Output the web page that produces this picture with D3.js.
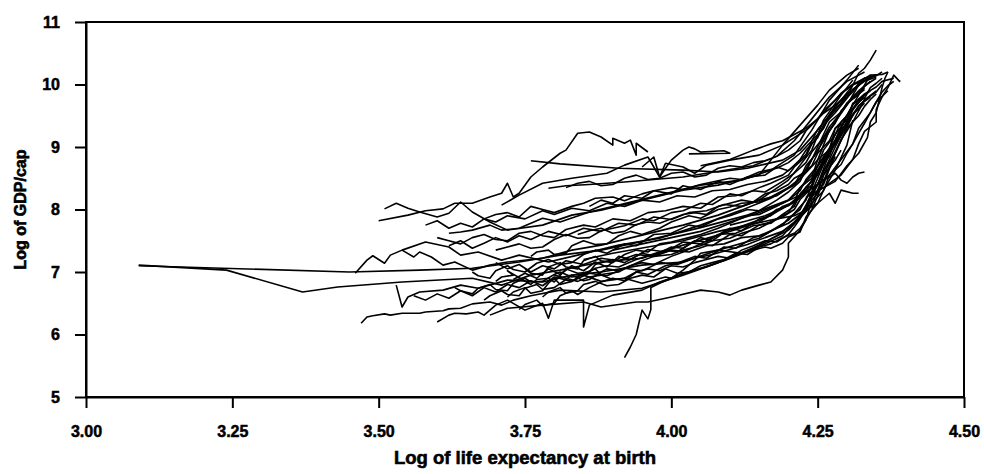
<!DOCTYPE html>
<html>
<head>
<meta charset="utf-8">
<script src="https://cdn.jsdelivr.net/npm/d3@7"></script>
<style>
  body { margin: 0; background: #fff; }
  svg { display: block; font-family: "Liberation Sans", Arial, sans-serif; }
  .axis text { font-size: 16px; font-weight: bold; fill: #000; stroke: #000; stroke-width: 0.5px; }
  .axis path, .axis line { stroke: #000; stroke-width: 2px; }
  .title { font-weight: bold; fill: #000; stroke: #000; stroke-width: 0.6px; }
</style>
</head>
<body>
<div id="chart"></div>
<script>
// each country: [log life expectancy, log GDP per capita] by year
const lineA = [[3.09,7.11],[3.24,7.03],[3.37,6.68],[3.43,6.76],[3.54,6.84],[3.66,6.90],[3.71,6.79],[3.76,6.95],[3.81,7.03],[3.88,7.16],[3.95,7.22],[4.02,7.43],[4.08,7.59],[4.15,7.80],[4.20,8.07],[4.24,8.39],[4.26,8.79],[4.29,9.19],[4.31,9.59],[4.33,9.83]];
const lineB = [[3.09,7.10],[3.45,7.00],[3.57,7.03],[3.66,7.06],[3.74,7.16],[3.81,7.27],[3.88,7.35],[3.96,7.51],[4.05,7.71],[4.13,7.91],[4.20,8.15],[4.24,8.55],[4.28,9.11],[4.30,9.51],[4.32,9.83],[4.34,10.15]];
const lineH = [[3.50,7.82],[3.55,7.91],[3.58,7.98],[3.61,8.01],[3.63,8.10],[3.66,8.10],[3.69,8.20],[3.71,8.26],[3.72,8.42],[3.73,8.20],[3.74,8.26],[3.76,8.52],[3.78,8.68],[3.81,8.90],[3.82,8.95],[3.84,9.22],[3.86,9.24],[3.88,9.16],[3.90,9.03],[3.90,9.14],[3.92,9.06],[3.93,9.11],[3.94,8.87],[3.94,9.06],[3.96,8.92]];
const lineL1 = [[3.51,8.01],[3.53,8.10],[3.55,8.02],[3.57,7.96],[3.60,7.88],[3.62,7.94],[3.64,8.12],[3.66,7.96],[3.69,7.80],[3.72,7.67],[3.78,7.75],[3.83,7.91],[3.88,7.99],[3.95,8.15],[4.02,8.31],[4.08,8.39],[4.15,8.55],[4.19,9.03],[4.23,9.27],[4.26,9.54],[4.28,9.67],[4.30,9.80],[4.32,10.18],[4.33,10.26],[4.34,10.39],[4.35,10.55]];
const lineS = [[3.76,8.78],[3.81,8.73],[3.91,8.66],[4.02,8.63],[4.08,8.60],[4.13,8.66],[4.19,8.79],[4.22,8.95],[4.25,9.27],[4.29,9.75],[4.31,9.99],[4.34,10.15]];
const lineT = [[3.95,8.68],[3.97,8.84],[3.98,8.52],[3.99,8.66],[4.00,8.79],[4.02,8.95],[4.03,9.00],[4.04,8.97],[4.05,8.92],[4.09,8.94],[4.10,8.90],[4.03,8.89]];
const lineLW = [[3.47,6.18],[3.48,6.28],[3.49,6.30],[3.51,6.33],[3.52,6.31],[3.54,6.34],[3.57,6.34],[3.58,6.36],[3.61,6.38],[3.62,6.41],[3.64,6.42],[3.66,6.49],[3.69,6.52],[3.71,6.47],[3.73,6.55],[3.76,6.62],[3.81,6.71],[3.88,6.68],[3.95,6.74],[4.02,6.95],[4.08,7.15],[4.15,7.43],[4.20,7.67],[4.24,8.07],[4.26,8.55],[4.29,9.11],[4.31,9.51]];
const lineLW2 = [[3.60,6.20],[3.62,6.31],[3.63,6.34],[3.65,6.33],[3.67,6.36],[3.68,6.31],[3.70,6.47],[3.72,6.55],[3.75,6.39],[3.78,6.50],[3.79,6.26],[3.80,6.55],[3.84,6.55],[3.85,6.55],[3.85,6.12],[3.86,6.47],[3.90,6.63],[3.95,6.71],[3.98,6.84],[4.03,7.00],[4.09,7.18],[4.14,7.36],[4.19,7.58],[4.22,7.90],[4.25,8.40],[4.27,8.90],[4.30,9.35]];
const lineW = [[3.46,6.98],[3.48,7.19],[3.49,7.26],[3.51,7.14],[3.52,7.27],[3.54,7.35],[3.56,7.24],[3.57,7.32],[3.59,7.24],[3.61,7.11],[3.63,7.16],[3.66,7.03],[3.69,7.11],[3.72,7.16],[3.78,7.22],[3.83,7.35],[3.88,7.43],[3.95,7.59],[4.02,7.75],[4.08,7.91],[4.15,8.15],[4.20,8.47],[4.24,8.95],[4.26,9.43],[4.29,9.83],[4.31,10.07]];
const lineW2 = [[3.54,7.35],[3.58,7.48],[3.62,7.40],[3.64,7.27],[3.67,7.32],[3.71,7.19],[3.74,7.27],[3.79,7.16],[3.84,7.27],[3.91,7.43],[3.98,7.54],[4.05,7.75],[4.12,7.99],[4.17,8.18],[4.21,8.39],[4.25,8.79],[4.27,9.27],[4.30,9.67],[4.32,9.99]];
const lineV = [[3.53,6.79],[3.54,6.44],[3.55,6.60],[3.57,6.68],[3.61,6.71],[3.64,6.79],[3.67,6.74],[3.72,6.87],[3.78,6.84],[3.83,6.95],[3.88,7.00],[3.95,7.11],[4.02,7.16],[4.08,7.35],[4.15,7.54],[4.20,7.83],[4.23,8.15],[4.25,8.63],[4.28,9.11],[4.30,9.51]];
const lineU = [[3.62,7.62],[3.64,7.64],[3.66,7.67],[3.69,7.75],[3.71,7.67],[3.74,7.70],[3.78,7.86],[3.81,7.80],[3.86,7.96],[3.91,8.07],[3.98,8.23],[4.05,8.39],[4.12,8.47],[4.17,8.63],[4.21,8.87],[4.24,9.27],[4.27,9.75],[4.30,10.07],[4.32,10.31]];
const lineC1 = [[3.70,6.85],[3.71,6.92],[3.73,6.95],[3.72,7.02],[3.76,6.80],[3.77,6.88],[3.79,6.90],[3.80,6.84],[3.82,7.05],[3.84,6.98],[3.86,7.00],[3.87,7.12],[3.90,7.20],[3.92,7.15],[3.95,7.30],[3.97,7.26],[4.00,7.40],[4.02,7.38],[4.05,7.55],[4.07,7.50],[4.10,7.70],[4.12,7.66],[4.15,7.85],[4.17,7.90],[4.19,8.05],[4.21,8.12],[4.22,8.35],[4.24,8.50],[4.25,8.80],[4.27,8.95],[4.28,9.30],[4.30,9.42],[4.31,9.70],[4.33,9.78],[4.34,9.95],[4.35,10.02],[4.36,10.10]];
const lineC2 = [[3.72,6.60],[3.73,6.68],[3.75,6.75],[3.76,6.66],[3.78,6.70],[3.79,6.82],[3.80,6.90],[3.81,6.80],[3.83,6.85],[3.85,6.98],[3.87,7.05],[3.88,6.96],[3.91,7.00],[3.93,7.10],[3.95,7.15],[3.97,7.12],[4.00,7.25],[4.02,7.32],[4.05,7.45],[4.07,7.42],[4.10,7.60],[4.12,7.58],[4.15,7.75],[4.17,7.80],[4.20,7.95],[4.21,8.10],[4.23,8.30],[4.24,8.48],[4.26,8.75],[4.27,8.92],[4.29,9.25],[4.30,9.40],[4.32,9.65],[4.33,9.75],[4.35,9.90]];
const lineC3 = [[3.66,7.00],[3.67,6.94],[3.69,6.90],[3.70,7.02],[3.72,7.10],[3.73,7.04],[3.75,7.00],[3.77,7.14],[3.79,7.20],[3.81,7.12],[3.83,7.15],[3.85,7.28],[3.87,7.35],[3.89,7.30],[3.92,7.45],[3.94,7.42],[3.97,7.60],[4.00,7.62],[4.03,7.75],[4.05,7.72],[4.08,7.85],[4.10,7.90],[4.13,8.00],[4.15,7.98],[4.18,8.15],[4.20,8.28],[4.22,8.45],[4.23,8.65],[4.25,8.95],[4.26,9.10],[4.28,9.40],[4.29,9.55],[4.31,9.80],[4.32,9.88],[4.34,10.05]];
const lineC4 = [[3.60,7.55],[3.62,7.50],[3.64,7.45],[3.66,7.55],[3.68,7.60],[3.70,7.52],[3.72,7.50],[3.74,7.62],[3.76,7.65],[3.78,7.58],[3.80,7.55],[3.82,7.68],[3.85,7.75],[3.87,7.72],[3.90,7.85],[3.93,7.82],[3.96,7.95],[3.99,7.98],[4.02,8.05],[4.05,8.02],[4.08,8.20],[4.11,8.22],[4.14,8.30],[4.16,8.28],[4.19,8.45],[4.21,8.58],[4.23,8.75],[4.24,8.92],[4.26,9.15],[4.27,9.32],[4.29,9.55],[4.30,9.70],[4.32,9.90],[4.33,9.98],[4.35,10.10]];
const lineC5 = [[3.68,7.85],[3.70,7.92],[3.72,7.95],[3.74,7.88],[3.76,8.05],[3.78,8.00],[3.80,7.95],[3.83,8.05],[3.85,8.10],[3.87,8.18],[3.90,8.20],[3.92,8.14],[3.95,8.25],[3.97,8.30],[4.00,8.35],[4.02,8.32],[4.05,8.40],[4.08,8.46],[4.10,8.50],[4.12,8.48],[4.15,8.60],[4.18,8.66],[4.20,8.75],[4.22,8.90],[4.24,9.10],[4.25,9.28],[4.27,9.50],[4.28,9.66],[4.30,9.85],[4.32,9.98],[4.33,10.10],[4.35,10.14],[4.36,10.20]];
const lineC6 = [[3.74,6.40],[3.75,6.48],[3.77,6.55],[3.78,6.46],[3.80,6.50],[3.81,6.62],[3.83,6.70],[3.84,6.64],[3.86,6.75],[3.88,6.84],[3.90,6.90],[3.92,6.86],[3.94,7.00],[3.96,6.96],[3.99,7.10],[4.01,7.14],[4.04,7.25],[4.06,7.22],[4.09,7.40],[4.11,7.38],[4.14,7.55],[4.16,7.60],[4.19,7.75],[4.20,7.86],[4.22,8.00],[4.23,8.18],[4.25,8.40],[4.26,8.62],[4.28,8.90],[4.29,9.12],[4.31,9.40],[4.32,9.58],[4.33,9.75],[4.35,9.88],[4.36,10.00]];
const lineC7 = [[3.76,7.25],[3.77,7.32],[3.79,7.35],[3.80,7.28],[3.82,7.30],[3.83,7.42],[3.85,7.50],[3.87,7.44],[3.89,7.45],[3.91,7.58],[3.93,7.65],[3.95,7.60],[3.98,7.70],[4.00,7.80],[4.03,7.90],[4.05,7.86],[4.08,8.00],[4.10,8.04],[4.12,8.10],[4.15,8.12],[4.17,8.20],[4.19,8.30],[4.21,8.40],[4.22,8.55],[4.24,8.70],[4.25,8.90],[4.27,9.10],[4.28,9.30],[4.30,9.50],[4.31,9.68],[4.33,9.85],[4.35,9.96],[4.36,10.05],[4.38,10.10]];
const lineC8 = [[3.80,6.95],[3.82,6.90],[3.84,6.85],[3.86,6.92],[3.88,6.95],[3.90,6.88],[3.92,6.90],[3.94,7.00],[3.96,7.05],[3.98,7.02],[4.00,7.10],[4.02,7.08],[4.04,7.15],[4.06,7.20],[4.08,7.25],[4.10,7.22],[4.12,7.35],[4.14,7.42],[4.16,7.50],[4.18,7.48],[4.20,7.60],[4.21,7.72],[4.22,7.85],[4.23,8.02],[4.24,8.20],[4.25,8.40],[4.26,8.60],[4.27,8.80],[4.28,9.00],[4.29,9.18],[4.30,9.35]];
const lineC9 = [[3.63,6.75],[3.64,6.70],[3.66,6.65],[3.67,6.74],[3.69,6.80],[3.70,6.72],[3.72,6.70],[3.73,6.82],[3.75,6.90],[3.76,6.84],[3.78,6.85],[3.80,6.96],[3.81,7.00],[3.83,6.92],[3.85,6.95],[3.87,7.06],[3.89,7.10],[3.91,7.08],[3.94,7.20],[3.96,7.26],[3.99,7.35],[4.01,7.32],[4.04,7.50],[4.06,7.48],[4.09,7.65],[4.11,7.70],[4.14,7.80],[4.16,7.86],[4.18,8.00],[4.20,8.06],[4.22,8.20],[4.23,8.36],[4.25,8.55],[4.26,8.80],[4.28,9.05],[4.29,9.28],[4.31,9.50],[4.32,9.66],[4.34,9.80]];
const lineC10 = [[3.82,8.35],[3.84,8.42],[3.86,8.45],[3.88,8.38],[3.90,8.40],[3.92,8.50],[3.94,8.55],[3.96,8.48],[3.98,8.50],[4.00,8.58],[4.02,8.60],[4.04,8.52],[4.06,8.55],[4.08,8.66],[4.10,8.70],[4.12,8.68],[4.14,8.75],[4.16,8.78],[4.18,8.85],[4.20,8.95],[4.22,9.10],[4.23,9.26],[4.25,9.45],[4.26,9.58],[4.28,9.75],[4.29,9.86],[4.31,10.00],[4.33,10.06],[4.34,10.15],[4.36,10.16],[4.37,10.20]];
const lineC11 = [[3.70,7.35],[3.72,7.40],[3.74,7.45],[3.76,7.38],[3.78,7.40],[3.80,7.52],[3.82,7.60],[3.84,7.54],[3.86,7.55],[3.88,7.66],[3.90,7.70],[3.92,7.74],[3.95,7.85],[3.97,7.82],[4.00,7.95],[4.02,7.98],[4.05,8.10],[4.07,8.08],[4.10,8.25],[4.12,8.22],[4.15,8.35],[4.17,8.42],[4.20,8.55],[4.21,8.68],[4.23,8.85],[4.24,9.05],[4.26,9.30],[4.27,9.48],[4.29,9.70],[4.30,9.84],[4.32,10.00],[4.33,10.06],[4.35,10.15]];
const lineC12 = [[3.78,6.60],[3.79,6.68],[3.81,6.75],[3.82,6.66],[3.84,6.70],[3.85,6.80],[3.87,6.85],[3.89,6.78],[3.91,6.80],[3.93,6.90],[3.95,6.95],[3.97,6.92],[3.99,7.05],[4.01,6.98],[4.03,7.00],[4.05,7.10],[4.07,7.15],[4.09,7.20],[4.11,7.30],[4.13,7.28],[4.15,7.40],[4.17,7.45],[4.19,7.55],[4.21,7.62],[4.22,7.70],[4.23,7.84],[4.24,8.00],[4.25,8.22],[4.26,8.45],[4.27,8.68],[4.28,8.90],[4.29,9.10],[4.30,9.30],[4.32,9.50],[4.33,9.65],[4.34,9.76],[4.35,9.85]];
const lineC13 = [[3.84,7.60],[3.86,7.66],[3.88,7.70],[3.90,7.62],[3.92,7.65],[3.94,7.76],[3.96,7.80],[3.98,7.78],[4.00,7.85],[4.02,7.92],[4.04,7.95],[4.06,7.92],[4.08,8.05],[4.10,8.10],[4.12,8.15],[4.14,8.12],[4.16,8.25],[4.18,8.30],[4.20,8.40],[4.21,8.50],[4.23,8.60],[4.24,8.80],[4.25,9.00],[4.26,9.20],[4.27,9.40],[4.29,9.56],[4.30,9.70],[4.32,9.84],[4.33,9.95]];
const lineC15 = [[3.68,6.55],[3.69,6.62],[3.71,6.70],[3.72,6.64],[3.74,6.62],[3.75,6.74],[3.77,6.80],[3.78,6.72],[3.80,6.75],[3.82,6.88],[3.83,6.95],[3.85,6.86],[3.86,6.88],[3.88,7.00],[3.89,7.05],[3.91,7.02],[3.93,7.10],[3.95,7.18],[3.97,7.25],[4.00,7.28],[4.02,7.35],[4.05,7.42],[4.07,7.50],[4.10,7.54],[4.12,7.62],[4.15,7.70],[4.17,7.80],[4.19,7.88],[4.21,8.00],[4.22,8.16],[4.24,8.35],[4.25,8.60],[4.27,8.85],[4.28,9.10],[4.30,9.35],[4.31,9.52],[4.33,9.70]];
const lineC16 = [[3.75,7.05],[3.76,6.98],[3.78,6.95],[3.79,7.08],[3.81,7.15],[3.82,7.08],[3.84,7.05],[3.85,7.18],[3.87,7.25],[3.88,7.18],[3.90,7.15],[3.92,7.28],[3.94,7.35],[3.96,7.32],[3.98,7.45],[4.00,7.48],[4.03,7.55],[4.05,7.60],[4.08,7.70],[4.10,7.78],[4.13,7.90],[4.15,7.92],[4.18,8.05],[4.20,8.15],[4.22,8.30],[4.23,8.48],[4.25,8.70],[4.26,8.95],[4.28,9.20],[4.29,9.40],[4.31,9.60],[4.32,9.76],[4.34,9.90]];
const lineC17 = [[3.86,8.05],[3.88,8.15],[3.90,8.10],[3.92,8.22],[3.95,8.18],[3.97,8.30],[4.00,8.25],[4.02,8.38],[4.05,8.32],[4.08,8.45],[4.10,8.40],[4.13,8.52],[4.16,8.55],[4.18,8.68],[4.20,8.62],[4.22,8.80],[4.23,8.95],[4.25,9.15],[4.26,9.35],[4.28,9.55],[4.30,9.78],[4.31,9.92],[4.33,10.05],[4.35,10.12]];
const lineC18 = [[3.58,7.75],[3.60,7.82],[3.62,7.70],[3.64,7.78],[3.66,7.72],[3.68,7.85],[3.70,7.80],[3.72,7.90],[3.75,7.85],[3.78,7.98],[3.80,7.92],[3.83,8.02],[3.86,7.98],[3.89,8.10],[3.92,8.05],[3.95,8.15],[3.98,8.12],[4.01,8.22],[4.04,8.20],[4.07,8.30],[4.10,8.32],[4.13,8.40],[4.16,8.45],[4.19,8.55],[4.21,8.70],[4.23,8.88],[4.24,9.10],[4.26,9.30],[4.27,9.52],[4.29,9.70],[4.31,9.88],[4.32,10.02],[4.34,10.10]];
const lineC19 = [[3.70,7.15],[3.72,7.05],[3.74,7.12],[3.76,7.00],[3.78,7.10],[3.80,7.05],[3.82,7.18],[3.85,7.12],[3.88,7.22],[3.91,7.18],[3.94,7.28],[3.97,7.25],[4.00,7.35],[4.03,7.32],[4.06,7.42],[4.09,7.45],[4.12,7.55],[4.15,7.58],[4.18,7.70],[4.20,7.78],[4.22,7.92],[4.24,8.10],[4.26,8.30],[4.27,8.55],[4.29,8.80],[4.31,9.05],[4.32,9.30],[4.34,9.55],[4.35,9.72],[4.37,9.90]];
const lineC20 = [[3.73,6.88],[3.75,6.98],[3.77,6.90],[3.79,7.05],[3.81,6.96],[3.83,7.10],[3.85,7.02],[3.87,7.16],[3.89,7.08],[3.91,7.25],[3.93,7.20],[3.96,7.36],[3.99,7.32],[4.02,7.48],[4.05,7.45],[4.08,7.60],[4.11,7.62],[4.14,7.74],[4.17,7.78],[4.19,7.92],[4.21,8.05],[4.22,8.25],[4.24,8.45],[4.25,8.70],[4.27,8.98],[4.28,9.20],[4.30,9.45],[4.31,9.62],[4.33,9.80]];
const lineC21 = [[3.56,6.62],[3.58,6.55],[3.60,6.65],[3.62,6.58],[3.64,6.70],[3.66,6.62],[3.68,6.75],[3.70,6.68],[3.72,6.80],[3.74,6.75],[3.76,6.86],[3.78,6.78],[3.80,6.92],[3.83,6.85],[3.86,6.98],[3.89,6.94],[3.92,7.06],[3.95,7.02],[3.98,7.15],[4.01,7.12],[4.04,7.22],[4.07,7.28],[4.10,7.36],[4.13,7.44],[4.16,7.55],[4.19,7.65],[4.21,7.80],[4.23,7.98],[4.24,8.20],[4.26,8.40],[4.27,8.65],[4.28,8.85]];
const lineC22 = [[3.62,7.42],[3.64,7.50],[3.66,7.38],[3.68,7.46],[3.70,7.55],[3.72,7.48],[3.74,7.58],[3.76,7.52],[3.79,7.65],[3.82,7.58],[3.85,7.70],[3.88,7.65],[3.91,7.78],[3.94,7.75],[3.97,7.88],[4.00,7.84],[4.03,7.95],[4.06,7.98],[4.09,8.08],[4.12,8.05],[4.15,8.15],[4.18,8.22],[4.20,8.35],[4.22,8.50],[4.23,8.70],[4.25,8.92],[4.26,9.15],[4.28,9.38],[4.29,9.58],[4.31,9.78],[4.33,9.92]];
const lineC23 = [[4.10,7.75],[4.13,7.82],[4.16,7.90],[4.19,8.02],[4.21,8.12],[4.23,8.28],[4.25,8.40],[4.27,8.55],[4.29,8.72],[4.30,8.90],[4.31,9.05],[4.32,9.22],[4.33,9.38],[4.34,9.55],[4.35,9.72],[4.36,9.88],[4.37,9.98],[4.38,10.05]];
const lineR1 = [[3.90,7.35],[3.95,7.45],[4.00,7.55],[4.05,7.65],[4.10,7.80],[4.15,7.95],[4.19,8.10],[4.22,8.23],[4.25,8.39],[4.25,8.42],[4.27,8.52],[4.28,8.58],[4.29,8.47],[4.30,8.42],[4.31,8.52],[4.32,8.58],[4.33,8.60]];
const lineR2 = [[3.85,7.20],[3.90,7.30],[3.96,7.40],[4.02,7.50],[4.08,7.65],[4.13,7.75],[4.18,7.85],[4.21,7.90],[4.23,7.99],[4.25,8.10],[4.27,8.26],[4.28,8.10],[4.29,8.31],[4.31,8.26],[4.32,8.26]];
const lineM = [[3.85,6.95],[3.88,6.85],[3.92,6.90],[3.95,6.82],[3.99,6.92],[4.00,6.90],[4.02,7.03],[4.04,7.19],[4.05,7.30],[4.08,7.35],[4.12,7.30],[4.14,7.35],[4.16,7.40],[4.17,7.38],[4.19,7.46],[4.20,7.56],[4.22,7.64],[4.23,7.88],[4.25,8.10],[4.26,8.31],[4.28,8.63],[4.30,9.03],[4.31,9.43]];
const lineLL = [[3.69,6.31],[3.72,6.42],[3.78,6.47],[3.85,6.52],[3.88,6.44],[3.94,6.52],[3.96,6.52],[4.00,6.60],[4.05,6.71],[4.08,6.68],[4.10,6.63],[4.12,6.71],[4.15,6.79],[4.17,6.84],[4.19,7.03],[4.20,7.24],[4.20,7.46],[4.22,7.67],[4.23,7.83],[4.24,8.15],[4.25,8.26],[4.26,8.55],[4.28,8.79],[4.29,8.95]];
const lineD = [[3.92,5.63],[3.93,5.80],[3.94,6.00],[3.945,6.20],[3.95,6.39],[3.96,6.25],[3.965,6.40],[3.965,6.75],[3.98,6.82],[4.02,6.98],[4.06,7.08],[4.10,7.22],[4.14,7.38],[4.18,7.58],[4.21,7.78],[4.23,8.05],[4.25,8.50],[4.27,8.95]];
const lineUP1 = [[3.71,8.07],[3.74,8.23],[3.78,8.42],[3.83,8.50],[3.89,8.58],[3.92,8.71],[3.96,8.84],[3.98,8.52],[3.99,8.74],[4.02,8.68],[4.04,8.58],[4.06,8.71],[4.10,8.79],[4.15,8.87],[4.19,9.03],[4.22,9.35],[4.25,9.67],[4.27,9.91],[4.30,10.15],[4.32,10.26]];
const lineUP2 = [[3.79,8.34],[3.82,8.38],[3.86,8.40],[3.92,8.44],[3.97,8.48],[4.02,8.52],[4.06,8.58],[4.10,8.64],[4.14,8.70],[4.18,8.85],[4.21,9.10],[4.24,9.45],[4.27,9.80],[4.30,10.05],[4.33,10.20]];
const lineRE1 = [[4.23,8.20],[4.26,8.35],[4.29,8.55],[4.31,8.80],[4.32,9.05],[4.33,9.25],[4.35,9.40],[4.35,9.60],[4.36,9.80],[4.37,9.95],[4.38,10.15],[4.39,10.05],[4.39,10.07]];
const lineRE2 = [[4.25,8.30],[4.28,8.45],[4.30,8.70],[4.32,8.90],[4.335,9.15],[4.34,9.40],[4.35,9.55],[4.355,9.75],[4.36,9.95],[4.365,10.10],[4.37,10.20]];
const lineUE2 = [[4.05,8.70],[4.10,8.80],[4.14,8.95],[4.17,9.05],[4.19,9.10],[4.21,9.20],[4.23,9.30],[4.25,9.45],[4.27,9.65],[4.29,9.85],[4.31,10.00],[4.33,10.10],[4.35,10.15]];

const countries = [lineA, lineB, lineH, lineL1, lineS, lineT, lineLW, lineLW2, lineW, lineW2, lineV, lineU,
  lineC1, lineC2, lineC3, lineC4, lineC5, lineC6, lineC7, lineC8, lineC9, lineC10, lineC11, lineC12, lineC13,
  lineC15, lineC16, lineC17, lineC18, lineC19, lineC20, lineC21, lineC22, lineC23,
  lineR1, lineR2, lineM, lineLL, lineD, lineUP1, lineUP2, lineRE1, lineRE2, lineUE2];

const xTicks = [3.00, 3.25, 3.50, 3.75, 4.00, 4.25, 4.50];
const yTicks = [5, 6, 7, 8, 9, 10, 11];

const width = 984, height = 474;
const margin = { top: 22, right: 20, bottom: 77, left: 86 };
const innerW = width - margin.left - margin.right;
const innerH = height - margin.top - margin.bottom;

const svg = d3.select('#chart').append('svg')
  .attr('width', width)
  .attr('height', height);

const g = svg.append('g')
  .attr('transform', 'translate(' + margin.left + ',' + margin.top + ')');

const x = d3.scaleLinear().domain([3, 4.5]).range([0, innerW]);
const y = d3.scaleLinear().domain([5, 11]).range([innerH, 0]);

const line = d3.line()
  .x(d => x(d[0]))
  .y(d => y(d[1]));

g.selectAll('.country')
  .data(countries)
  .enter()
  .append('path')
  .attr('class', 'country')
  .attr('d', line)
  .attr('fill', 'none')
  .attr('stroke', '#000')
  .attr('stroke-width', 1.6)
  .attr('stroke-linejoin', 'round');

// frame
g.append('rect')
  .attr('width', innerW)
  .attr('height', innerH)
  .attr('fill', 'none')
  .attr('stroke', '#000')
  .attr('stroke-width', 2);

g.append('g')
  .attr('class', 'axis')
  .attr('transform', 'translate(0,' + innerH + ')')
  .call(d3.axisBottom(x).tickValues(xTicks).tickFormat(d3.format('.2f')).tickSize(11).tickSizeOuter(0).tickPadding(18));

g.append('g')
  .attr('class', 'axis')
  .call(d3.axisLeft(y).tickValues(yTicks).tickFormat(d3.format('d')).tickSize(11).tickSizeOuter(0).tickPadding(15));

svg.append('text')
  .attr('class', 'title')
  .attr('x', margin.left + innerW / 2)
  .attr('y', 464)
  .attr('text-anchor', 'middle')
  .style('font-size', '18.5px')
  .text('Log of life expectancy at birth');

svg.append('text')
  .attr('class', 'title')
  .attr('transform', 'translate(26,' + (margin.top + innerH / 2) + ')rotate(-90)')
  .attr('text-anchor', 'middle')
  .style('font-size', '16px')
  .text('Log of GDP/cap');
</script>
</body>
</html>
